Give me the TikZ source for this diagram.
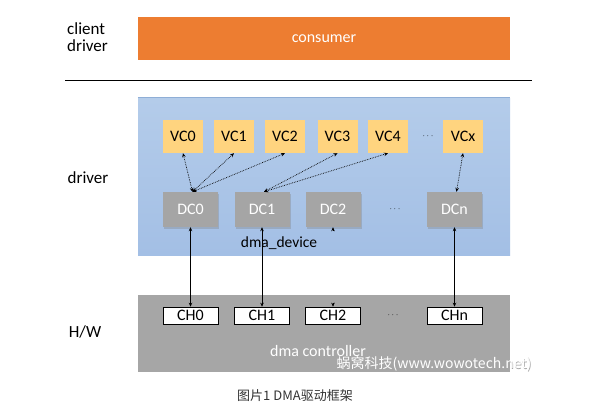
\documentclass[tikz,border=0pt]{standalone}
\usepackage{fontspec}
\setmainfont{Carlito}
\newfontfamily\cjk{Noto Sans CJK SC}
\usetikzlibrary{shadows,arrows.meta}
\definecolor{consumerorange}{HTML}{ED7D31}
\definecolor{vcyellow}{HTML}{FFD47F}
\definecolor{dcgray}{HTML}{A5A5A5}
\definecolor{hwgray}{HTML}{A6A6A6}
\definecolor{bluetop}{HTML}{B4CCEA}
\definecolor{bluebot}{HTML}{A3BFE5}
\definecolor{blueedge}{HTML}{8FAED6}
\begin{document}
\begin{tikzpicture}[x=1pt,y=-1pt,
  every node/.style={font=\fontsize{16}{18}\selectfont, inner sep=0pt},
  vcbox/.style={fill=vcyellow, minimum width=40pt, minimum height=33pt},
  dcbox/.style={fill=dcgray, text=white, minimum width=55pt, minimum height=35pt,
                drop shadow={shadow xshift=1pt, shadow yshift=-1.5pt, opacity=0.35}},
  chbox/.style={fill=white, draw=black, line width=0.6pt, minimum width=55pt, minimum height=17pt},
  layerlabel/.style={font=\fontsize{17}{17}\selectfont, align=left},
  dotlink/.style={densely dotted, line width=0.7pt, {Stealth[length=4pt,width=3.5pt]}-{Stealth[length=4pt,width=3.5pt]}},
  solidlink/.style={line width=0.7pt, {Stealth[length=4pt,width=3.5pt]}-{Stealth[length=4pt,width=3.5pt]}},
  stub/.style={line width=0.7pt, -{Stealth[length=4pt,width=3.5pt]}}
]
\useasboundingbox (0,0) rectangle (601,418);
\fill[white] (0,0) rectangle (601,418);

% client driver layer
\node[layerlabel, anchor=west] (lclient) at (67,37) {client\\driver};
\node[fill=consumerorange, text=white, minimum width=372pt, minimum height=43pt] (consumer) at (324,38.5) {consumer};

% separator line
\coordinate (sepL) at (65,80);
\coordinate (sepR) at (532,80);
\draw[line width=0.8pt] (sepL) -- (sepR);

% driver layer
\node[layerlabel] (ldriver) at (88,178) {driver};
\node[minimum width=372pt, minimum height=157pt, top color=bluetop, bottom color=bluebot] (dmadev) at (324,176.5) {};
\draw[blueedge, line width=0.8pt] (dmadev.north west) -- (dmadev.north east);

\node[vcbox] (VC0) at (183,136.5) {VC0};
\node[vcbox] (VC1) at (234,136.5) {VC1};
\node[vcbox] (VC2) at (285,136.5) {VC2};
\node[vcbox] (VC3) at (337.5,136.5) {VC3};
\node[vcbox] (VC4) at (388,136.5) {VC4};
\node (vcdots) at (428,136) {\fontsize{9}{10}\selectfont$\cdots$};
\node[vcbox] (VCx) at (463,136.5) {VCx};

\node[dcbox] (DC0) at (190.5,209.5) {DC0};
\node[dcbox] (DC1) at (262,209.5) {DC1};
\node[dcbox] (DC2) at (333,209.5) {DC2};
\node (dcdots) at (395,209) {\fontsize{9}{10}\selectfont$\cdots$};
\node[dcbox] (DCn) at (454.5,209.5) {DCn};
\node[font=\fontsize{15.5}{17}\selectfont] (devlabel) at (279,243) {dma\_device};

% H/W layer
\node[layerlabel] (lhw) at (85,332) {H/W};
\node[fill=hwgray, minimum width=372pt, minimum height=77pt] (dmactl) at (324,333.5) {};
\node[chbox] (CH0) at (190.5,315.5) {CH0};
\node[chbox] (CH1) at (262,315.5) {CH1};
\node[chbox] (CH2) at (333,315.5) {CH2};
\node (chdots) at (393,315) {\fontsize{9}{10}\selectfont$\cdots$};
\node[chbox] (CHn) at (454.5,315.5) {CHn};
\node[text=white, font=\fontsize{16}{18}\selectfont] (ctllabel) at (318,350.5) {dma controller};

% dotted links VC <-> DC
\draw[dotlink] ([xshift=2pt]DC0.north) -- (VC0.south);
\draw[dotlink] ([xshift=2pt]DC0.north) -- (VC1.south);
\draw[dotlink] ([xshift=2pt]DC0.north) -- (VC2.south);
\draw[dotlink] ([xshift=2pt]DC1.north) -- (VC3.south);
\draw[dotlink] ([xshift=2pt]DC1.north) -- (VC4.south);
\draw[dotlink] ([xshift=2pt]DCn.north) -- (VCx.south);

% solid links DC <-> CH
\draw[solidlink] (DC0.south) -- (CH0.north);
\draw[solidlink] (DC1.south) -- (CH1.north);
\draw[solidlink] (DCn.south) -- (CHn.north);
\draw[stub] ([yshift=-4pt]DC2.south) -- (DC2.south);
\draw[stub] ([yshift=4pt]CH2.north) -- (CH2.north);

% watermark
\node[text=gray!70, font=\cjk\fontsize{14}{16}\selectfont] (wmshadow) at (434.6,364.6) {蜗窝科技(www.wowotech.net)};
\node[text=white, font=\cjk\fontsize{14}{16}\selectfont] (wm) at (434,364) {蜗窝科技(www.wowotech.net)};

% caption
\node[text=black!80, font=\cjk\fontsize{13}{15}\selectfont] (caption) at (295,396) {图片1 DMA驱动框架};
\end{tikzpicture}
\end{document}
